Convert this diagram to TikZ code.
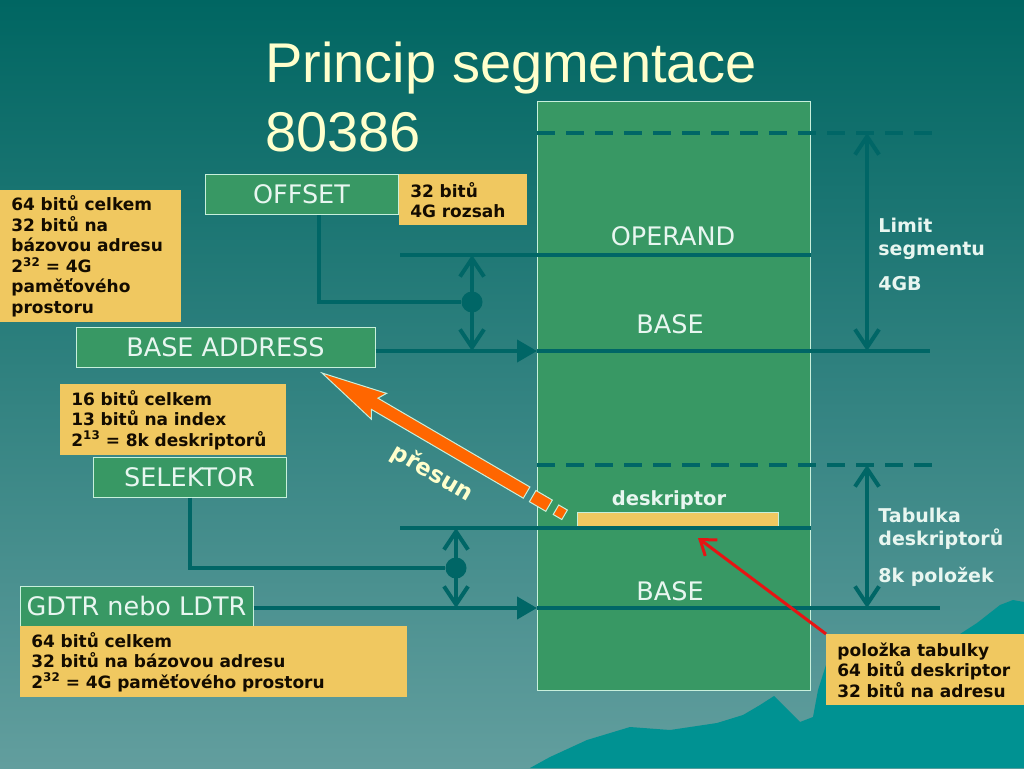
\documentclass[tikz,border=0pt]{standalone}
\usepackage{fontspec}
\setmainfont{DejaVu Sans}
\newfontfamily\titlefont{Liberation Sans}
\usepackage{tikz}
\usetikzlibrary{arrows.meta}
\usepackage{xcolor}
\definecolor{bgtop}{RGB}{0,102,98}
\definecolor{bgbot}{RGB}{98,158,158}
\definecolor{hills}{RGB}{0,146,146}
\definecolor{wirec}{RGB}{0,102,102}
\definecolor{boxgreen}{RGB}{56,152,100}
\definecolor{boxedge}{RGB}{200,240,220}
\definecolor{notey}{RGB}{240,200,96}
\definecolor{notetext}{RGB}{20,12,0}
\definecolor{labelc}{RGB}{232,246,240}
\definecolor{titlec}{RGB}{255,255,204}
\definecolor{movec}{RGB}{255,102,0}
\definecolor{redc}{RGB}{230,20,20}

\begin{document}
\begin{tikzpicture}[thick, x=1pt, y=-1pt]
\tikzstyle{regbox} = [draw=boxedge, line width=1pt, fill=boxgreen, text=labelc, font=\fontsize{25.5}{30}\selectfont, minimum height=40pt, inner sep=0pt]
\tikzstyle{note} = [fill=notey, text=notetext, anchor=north west, align=left, inner xsep=11pt, inner ysep=0pt, minimum height=71pt, font=\bfseries\fontsize{17}{20.5}\selectfont]
\tikzstyle{memlabel} = [text=labelc, inner sep=0pt, font=\fontsize{25.5}{30}\selectfont]
\tikzstyle{sidelabel} = [text=labelc, anchor=north west, align=left, inner sep=0pt, font=\bfseries\fontsize{19}{23}\selectfont]
\tikzstyle{wire} = [line width=4pt, wirec]
\tikzstyle{dimarrow} = [wire, {Straight Barb[length=18pt,width=24pt]}-{Straight Barb[length=18pt,width=24pt]}]
\tikzstyle{junction} = [circle, fill=wirec, minimum size=21pt, inner sep=0pt]
\tikzstyle{redarrow} = [line width=3pt, redc, -{Straight Barb[length=14pt,width=20pt]}]
\tikzstyle{movepart} = [fill=movec, draw=boxedge, line width=1pt]
\useasboundingbox (0,0) rectangle (1024,768);
\shade[top color=bgtop, bottom color=bgbot] (0,0) rectangle (1024,768);
% hills bottom right
\fill[hills] (530,768) -- (550,757) -- (587,740) -- (630,727) -- (670,730) -- (717,723)
	-- (743,715) -- (760,705) -- (774,696) -- (786,708) -- (800,722) -- (813,717)
	-- (818,690) -- (826,665) -- (900,640) -- (960,634) -- (977,623) -- (1000,605)
	-- (1013,600) -- (1024,602) -- (1024,768) -- cycle;
\node[anchor=north west, inner sep=0pt, align=left, text=titlec, font=\titlefont\fontsize{56}{69}\selectfont] (title) at (265,42) {Princip segmentace\\80386};
% memory
\node[draw=boxedge, line width=1pt, fill=boxgreen, minimum width=273pt, minimum height=589pt, inner sep=0pt] (mem) at (673.5,395.5) {};
\node[memlabel] (opl) at (673,236) {OPERAND};
\node[memlabel] (bl1) at (670,324) {BASE};
\node[memlabel] (bl2) at (670,591) {BASE};
\node[text=labelc, anchor=base, inner sep=0pt, font=\bfseries\fontsize{19.5}{23}\selectfont] (dl) at (669,505) {deskriptor};
\node[fill=notey, draw=boxedge, line width=0.8pt, minimum width=201pt, minimum height=16pt, inner sep=0pt] (dbar) at (677.5,520.5) {};
\coordinate (ltop) at (537,133);
\coordinate (ltopr) at (940,133);
\coordinate (ttop) at (537,465);
\coordinate (ttopr) at (940,465);
\coordinate (opw) at (400,255);
\coordinate (bin) at (537,351);
\coordinate (bine) at (930,351);
\coordinate (dw) at (400,528);
\coordinate (gin) at (537,608);
\coordinate (gine) at (940,608);
\coordinate (lx) at (867,0);
\draw[wire, dash pattern=on 18pt off 11pt] (ltop) -- (ltopr);
\draw[wire, dash pattern=on 18pt off 11pt] (ttop) -- (ttopr);
\draw[wire] (opw) -- (opw -| mem.east);
\draw[wire] (dw) -- (dw -| mem.east);
% registers
\node[regbox, minimum width=193pt] (off) at (301.5,194.5) {OFFSET};
\node[regbox, minimum width=299pt] (baddr) at (225.5,347) {BASE ADDRESS};
\node[regbox, minimum width=193pt] (sel) at (189.5,477) {SELEKTOR};
\node[regbox, minimum width=233pt] (gdtr) at (136.5,606) {GDTR nebo LDTR};
\node[note, text width=106pt, minimum height=51pt] (onote) at (399,174) {32 bitů\\4G rozsah};
\node[note, text width=159pt, minimum height=132pt] (lnote) at (0,190) {64 bitů celkem\\32 bitů na\\bázovou adresu\\2\textsuperscript{32} = 4G\\paměťového\\prostoru};
\node[note, text width=204pt] (snote) at (60,384) {16 bitů celkem\\13 bitů na index\\2\textsuperscript{13} = 8k deskriptorů};
\node[note, text width=365pt] (gnote) at (20,626) {64 bitů celkem\\32 bitů na bázovou adresu\\2\textsuperscript{32} = 4G paměťového prostoru};
\node[note, text width=176pt] (enote) at (826,634) {položka tabulky\\64 bitů deskriptor\\32 bitů na adresu};
% wires
\coordinate (ot) at ([xshift=17pt]off.south);
\node[junction] (j1) at (472,302) {};
\node[junction] (j2) at (456,568) {};
\draw[wire] (ot) |- (j1);
\draw[wire] (sel.south) |- (j2);
\draw[dimarrow] (j1 |- opw) -- (j1 |- bin);
\draw[dimarrow] (j2 |- dw) -- (j2 |- gin);
\draw[wire, -{Triangle[length=20pt,width=22pt]}] (baddr.east |- bin) -- (bin);
\draw[wire] (bin) -- (bine);
\draw[wire, -{Triangle[length=20pt,width=22pt]}] (gdtr.east |- gin) -- (gin);
\draw[wire] (gin) -- (gine);
\draw[dimarrow] (lx |- ltop) -- (lx |- bin);
\draw[dimarrow] (lx |- ttop) -- (lx |- gin);
\node[sidelabel] (limt) at (878,217.5) {Limit\\segmentu\\[12pt]4GB};
\node[sidelabel] (tabt) at (878,507.5) {Tabulka\\deskriptorů\\[14pt]8k položek};
% entry pointer
\coordinate (dhit) at (698,538);
\draw[redarrow] (enote.north west) -- (dhit);
% move arrow
\coordinate (tip) at (322,373);
\begin{scope}[shift={(tip)}, rotate=-30.3]
\filldraw[movepart] (0,0) -- (66,-15) -- (61,-6.5) -- (237,-6.5) -- (237,6.5) -- (61,6.5) -- (66,15) -- cycle;
\filldraw[movepart] (244,-6.5) rectangle (263,6.5);
\filldraw[movepart] (271,-5.5) rectangle (281,5.5);
\end{scope}
\node[text=titlec, rotate=-30.3, inner sep=0pt, font=\bfseries\fontsize{23}{28}\selectfont] (mv) at (432,473) {přesun};
\end{tikzpicture}
\end{document}
